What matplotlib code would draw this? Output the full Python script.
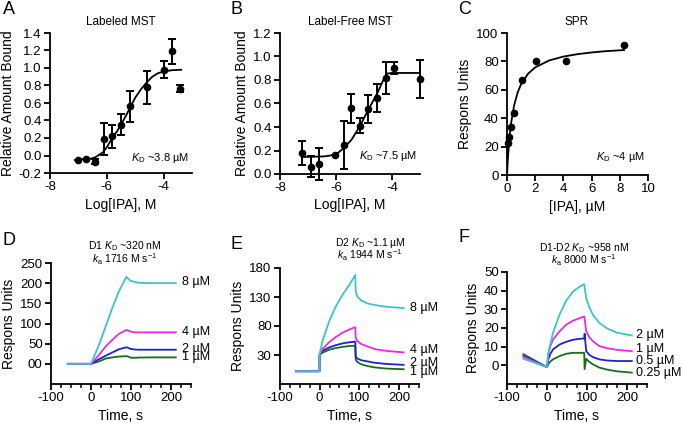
import numpy as np
import matplotlib.pyplot as plt
from matplotlib.ticker import MultipleLocator, FormatStrFormatter

plt.rcParams['font.family'] = ['Liberation Sans', 'DejaVu Sans']
plt.rcParams['axes.unicode_minus'] = False
plt.rcParams['mathtext.fontset'] = 'custom'
plt.rcParams['mathtext.rm'] = 'Liberation Sans'
plt.rcParams['mathtext.it'] = 'Liberation Sans:italic'

# ---- panel A, labeled MST
a_x = [-7.02, -6.72, -6.4, -6.1, -5.8, -5.5, -5.2, -4.6, -4.0, -3.72, -3.42]
a_y = [-0.05, -0.04, -0.07, 0.19, 0.22, 0.35, 0.56, 0.78, 0.98, 1.19, 0.76]
a_err = [0.0, 0.0, 0.03, 0.18, 0.13, 0.12, 0.18, 0.19, 0.10, 0.14, 0.04]
a_fit_x = [-6.71, -6.4, -6.12, -5.95, -5.79, -5.63, -5.47, -5.3, -5.16, -5.0,
           -4.79, -4.58, -4.4, -4.2, -4.0, -3.7, -3.38]
a_fit_y = [-0.05, -0.02, 0.04, 0.12, 0.21, 0.28, 0.37, 0.47, 0.56, 0.66,
           0.76, 0.84, 0.90, 0.94, 0.96, 0.975, 0.98]

# ---- panel B, label-free MST
b_x = [-7.2, -6.9, -6.6, -6.02, -5.73, -5.45, -5.14, -4.85, -4.52, -4.23, -3.93, -3.0]
b_y = [0.18, 0.062, 0.085, 0.165, 0.25, 0.56, 0.41, 0.55, 0.65, 0.82, 0.905, 0.81]
b_err = [0.105, 0.09, 0.135, 0.0, 0.205, 0.125, 0.065, 0.12, 0.12, 0.135, 0.05, 0.16]
b_fit_x = [-7.2, -6.8, -6.4, -6.0, -5.73, -5.45, -5.14, -4.85, -4.52, -4.31,
           -4.17, -4.0, -3.5, -3.0]
b_fit_y = [0.145, 0.147, 0.15, 0.165, 0.22, 0.29, 0.41, 0.545, 0.69, 0.80,
           0.855, 0.86, 0.86, 0.86]

# ---- panel C, SPR steady state
c_x = [0.065, 0.13, 0.26, 0.52, 1.04, 2.08, 4.16, 8.33]
c_y = [22.8, 27.0, 33.6, 43.5, 66.8, 80.5, 80.5, 91.3]
c_fit_x = [0, 0.05, 0.1, 0.2, 0.3, 0.5, 0.75, 1.0, 1.5, 2.0, 3, 4, 5, 6, 7, 8.3]
c_fit_y = [0, 9.3, 16.9, 28.6, 37.1, 48.8, 58.0, 64.0, 71.4, 75.8, 80.7,
           83.4, 85.1, 86.3, 87.2, 88.0]

# ---- panel D, D1 sensorgrams
d_t = [-58, 0, 20, 36.5, 53, 69.5, 88.5, 92, 98.5, 110, 119, 150, 180, 212]
d_8 = [0, 0, 47, 92, 138, 179, 216, 212, 206, 203, 201, 200, 200, 200]
d_4 = [0, 0, 22, 43, 59, 74, 84, 83, 80, 78, 78, 78, 78, 78]
d_2 = [0, 0, 11.6, 20, 28, 36, 41, 40, 37, 35.5, 35, 35, 35, 35]
d_1 = [0, 0, 6, 13, 16, 18, 19, 18.5, 15.5, 15, 15.5, 16, 16, 16]

# ---- panel E, D2 sensorgrams
e_t = [-60, -0.5, 0, 7, 24, 41, 58, 75, 90, 91, 95, 105, 120, 140, 170, 212]
e_8 = [2, 2, 31, 54, 88, 114, 134, 151, 168, 140, 131, 124, 119, 116, 113, 111]
e_4 = [2, 2, 31, 40, 52, 61, 68.5, 74, 78, 60, 54, 49, 45, 40, 37, 34.5]
e_2 = [2, 2, 31, 37, 43, 47, 50, 52, 53, 27, 24, 21, 19, 16.5, 14.5, 13]
e_1 = [2, 2, 30, 34, 39, 42, 44, 45.5, 46, 22, 18, 14, 11, 8.5, 6.5, 5.5]

# ---- panel F, D1-D2 sensorgrams
f_t = [-59, 0, 3, 8, 15, 32, 48, 65, 82, 93, 94, 98, 106, 115, 131, 150, 175, 212]
f_2 = [3.5, -1, 6, 11, 17.4, 27.5, 34.6, 39.5, 42.2, 43.5, 42, 36, 31, 27, 22.7, 19.8, 17.5, 16]
f_1 = [4.5, -1, 6, 10, 13.8, 18.3, 21.8, 23.9, 25.3, 26.2, 25, 18.3, 15, 12.9, 10.3, 9.2, 8.3, 7.6]
f_05 = [5, -1, 3, 6, 8.5, 11.2, 12.6, 13.7, 14.2, 14.4, 16.9, 7.6, 5.6, 4.4, 3.2, 2.6, 2.3, 2.3]
f_025 = [6, -1, 0.5, 2, 3.2, 5, 6.2, 6.7, 6.7, 6.7, -2.1, 3.5, 1.8, 0.5, -1.2, -2.3, -3.2, -3.9]

conc_d = ['8 µM', '4 µM', '2 µM', '1 µM']
conc_f = ['2 µM', '1 µM', '0.5 µM', '0.25 µM']
colors = ['#36c6cc', '#e52ce0', '#1f22c8', '#1c6a1c']

fig = plt.figure(figsize=(6.83, 4.26), dpi=100)
W, H = 683.0, 426.0


def px_axes(l, t, r, b):
    return fig.add_axes([l / W, 1 - b / H, (r - l) / W, (b - t) / H])


def ftext(x, y, s, **kw):
    fig.text(x / W, 1 - y / H, s, **kw)


def style(ax):
    for s in ['top', 'right']:
        ax.spines[s].set_visible(False)
    for s in ['left', 'bottom']:
        ax.spines[s].set_linewidth(1.3)
    ax.tick_params(direction='out', length=4, width=1.3, labelsize=9.5, pad=2)
    ax.tick_params(which='minor', direction='out', length=3, width=1.1)


# A
ax = px_axes(50, 33, 192, 173)
style(ax)
ax.errorbar(a_x, a_y, yerr=a_err, fmt='o', color='k', ms=4.5, capsize=3,
            elinewidth=1.4, capthick=1.4, clip_on=False)
ax.plot(a_fit_x, a_fit_y, color='k', lw=1.3)
ax.set_xlim(-8, -3)
ax.set_ylim(-0.2, 1.4)
ax.yaxis.set_major_locator(MultipleLocator(0.2))
ax.yaxis.set_major_formatter(FormatStrFormatter('%.1f'))
ax.set_xlabel('Log[IPA], M', fontsize=10, labelpad=3)
ax.set_ylabel('Relative Amount Bound', fontsize=10, labelpad=3)
ax.text(0.98, 0.11, r'$K_{\mathrm{D}}$ ~3.8 µM', transform=ax.transAxes, ha='right', va='center', fontsize=8)

# B
ax = px_axes(280, 33, 420, 174)
style(ax)
ax.errorbar(b_x, b_y, yerr=b_err, fmt='o', color='k', ms=4.5, capsize=3,
            elinewidth=1.4, capthick=1.4, clip_on=False)
ax.plot(b_fit_x, b_fit_y, color='k', lw=1.3, clip_on=False)
ax.set_xlim(-8, -3)
ax.set_ylim(0, 1.2)
ax.yaxis.set_major_locator(MultipleLocator(0.2))
ax.yaxis.set_major_formatter(FormatStrFormatter('%.1f'))
ax.set_xlabel('Log[IPA], M', fontsize=10, labelpad=3)
ax.set_ylabel('Relative Amount Bound', fontsize=10, labelpad=3)
ax.text(0.98, 0.13, r'$K_{\mathrm{D}}$ ~7.5 µM', transform=ax.transAxes, ha='right', va='center', fontsize=8)

# C
ax = px_axes(507, 33, 648, 175)
style(ax)
ax.plot(c_x, c_y, 'o', color='k', ms=4.5, clip_on=False)
ax.plot(c_fit_x, c_fit_y, color='k', lw=1.3)
ax.set_xlim(0, 10)
ax.set_ylim(0, 100)
ax.xaxis.set_major_locator(MultipleLocator(2))
ax.yaxis.set_major_locator(MultipleLocator(20))
ax.set_xlabel('[IPA], µM', fontsize=10, labelpad=3)
ax.set_ylabel('Respons Units', fontsize=10, labelpad=3)
ax.text(0.98, 0.13, r'$K_{\mathrm{D}}$ ~4 µM', transform=ax.transAxes, ha='right', va='center', fontsize=8)

# D, E, F sensorgrams
panels = [
    ((51, 263, 191, 384), d_t, [d_8, d_4, d_2, d_1], conc_d, (-50, 250), [0, 50, 100, 150, 200, 250],
     ['00', '50', '100', '150', '200', '250'], [202, 79, 37, 17], 228),
    ((280, 268, 418.7, 384), e_t, [e_8, e_4, e_2, e_1], conc_d, (-20, 180), [30, 80, 130, 180],
     ['30', '80', '130', '180'], [111, 38, 16, 1], 228),
    ((507, 272, 647, 384), f_t, [f_2, f_1, f_05, f_025], conc_f, (-10, 50), [0, 10, 20, 30, 40, 50],
     ['0', '10', '20', '30', '40', '50'], [16, 8.9, 2.3, -4.2], 223),
]
for box, t, curves, labs, ylim, yt, ytl, laby, labx in panels:
    ax = px_axes(*box)
    style(ax)
    for i in [3, 2, 1, 0]:
        ax.plot(t, curves[i], color=colors[i], lw=1.3)
        ax.text(labx, laby[i], labs[i], fontsize=9, va='center', ha='left', clip_on=False)
    ax.set_xlim(-100, 250)
    ax.set_ylim(*ylim)
    ax.set_xticks([-100, 0, 100, 200])
    ax.xaxis.set_minor_locator(MultipleLocator(25))
    ax.set_yticks(yt)
    ax.set_yticklabels(ytl)
    ax.set_xlabel('Time, s', fontsize=10, labelpad=3)
    ax.set_ylabel('Respons Units', fontsize=10, labelpad=3)

# titles
ftext(121, 22, 'Labeled MST', ha='center', va='center', fontsize=8.5)
ftext(350, 22, 'Label-Free MST', ha='center', va='center', fontsize=8.5)
ftext(577, 22, 'SPR', ha='center', va='center', fontsize=8.5)
ftext(125, 246, r'D1 $K_{\mathrm{D}}$ ~320 nM', ha='center', va='center', fontsize=7.5)
ftext(125, 259, r'$k_{\mathrm{a}}$ 1716 M s$^{-1}$', ha='center', va='center', fontsize=7.5)
ftext(370, 243, r'D2 $K_{\mathrm{D}}$ ~1.1 µM', ha='center', va='center', fontsize=7.5)
ftext(370, 255, r'$k_{\mathrm{a}}$ 1944 M s$^{-1}$', ha='center', va='center', fontsize=7.5)
ftext(584, 248, r'D1-D2 $K_{\mathrm{D}}$ ~958 nM', ha='center', va='center', fontsize=7.5)
ftext(584, 260, r'$k_{\mathrm{a}}$ 8000 M s$^{-1}$', ha='center', va='center', fontsize=7.5)

# panel letters
for x, y, s in [(3, 10, 'A'), (230, 10, 'B'), (458, 10, 'C'),
                (3, 241, 'D'), (230, 244, 'E'), (458, 238, 'F')]:
    ftext(x, y, s, ha='left', va='center', fontsize=13)

fig.savefig('out.png', dpi=100)
